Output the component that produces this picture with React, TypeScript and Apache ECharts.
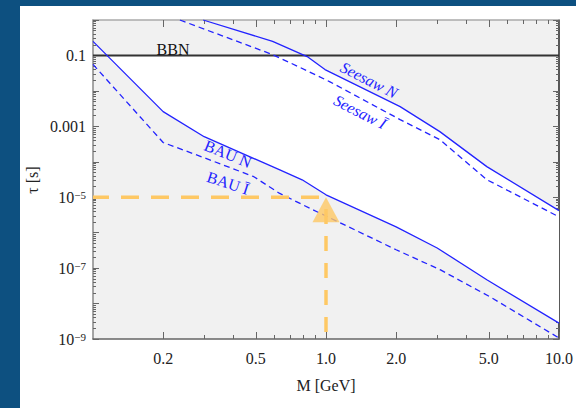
import React, { useEffect, useRef } from "react";
import * as echarts from "echarts";

// ---------- data ----------
const xTickValues = [0.2, 0.5, 1, 2, 5, 10];
const xMinorValues = [0.3, 0.4, 0.6, 0.7, 0.8, 0.9, 3, 4, 6, 7, 8, 9];
const yLabelExponents = [-9, -7, -5, -3, -1];
const yMajorExponents = [-9, -8, -7, -6, -5, -4, -3, -2, -1, 0];

const bauN_M = [0.1, 0.2, 0.3, 0.63, 0.79, 1.0, 2.0, 3.0, 4.9, 10];
const bauN_tau = [0.25, 2.6e-3, 5.1e-4, 6e-5, 3.1e-5, 1.17e-5, 1.46e-6, 3.7e-7, 4.7e-8, 2.8e-9];

const bauI_M = [0.1, 0.2, 0.3, 0.49, 0.63, 0.88, 1.15, 2.0, 3.1, 5.1, 10];
const bauI_tau = [0.056, 3.5e-4, 1.3e-4, 3.8e-5, 1.3e-5, 4.4e-6, 1.9e-6, 3.3e-7, 8.9e-8, 1.5e-8, 1.07e-9];

const seesawN_M = [0.297, 0.59, 0.83, 0.99, 2.08, 3.08, 4.9, 10];
const seesawN_tau = [1.0, 0.25, 0.093, 0.04, 3.6e-3, 7.1e-4, 7.3e-5, 4.2e-6];

const seesawI_M = [0.236, 0.587, 0.773, 1.04, 2.08, 3.08, 4.91, 10];
const seesawI_tau = [1.0, 0.107, 0.046, 0.018, 1.55e-3, 4.2e-4, 3.1e-5, 2.8e-6];

const bbnTau = 0.1;
const benchmarkM = 1.0;
const benchmarkTau = 1e-5;
const xMin = 0.1;
const xMax = 10;
const yMin = 1e-9;
const yMax = 1;

// ---------- helpers ----------
const lg = Math.log10;
const toPts = (ms: number[], ts: number[]) => ms.map((m, i) => [lg(m), lg(ts[i])]);

function crossX(pts: number[][], yv: number): number {
  for (let i = 0; i < pts.length - 1; i++) {
    const a = pts[i], b = pts[i + 1];
    if ((a[1] - yv) * (b[1] - yv) <= 0 && a[1] !== b[1]) {
      return a[0] + ((yv - a[1]) * (b[0] - a[0])) / (b[1] - a[1]);
    }
  }
  return pts[0][0];
}

const bauNPts = toPts(bauN_M, bauN_tau);
const bauIPts = toPts(bauI_M, bauI_tau);
const ssNPts = toPts(seesawN_M, seesawN_tau);
const ssIPts = toPts(seesawI_M, seesawI_tau);
const bbnL = lg(bbnTau);
const xa = crossX(bauNPts, bbnL);
const xb = crossX(ssNPts, bbnL);
const whiteRegion = [
  [xa, bbnL],
  [xb, bbnL],
  ...ssNPts.filter((p) => p[0] > xb),
  ...bauNPts.filter((p) => p[0] > xa).reverse(),
];

const yMinorValues: number[] = [];
for (let e = -9; e < 0; e++) for (let k = 2; k <= 9; k++) yMinorValues.push(lg(k * Math.pow(10, e)));

const FONT = "Liberation Serif, DejaVu Serif, serif";
const BLUE = "#2323ff";
const YELLOW = "#fec864";

export default function App() {
  const ref = useRef<HTMLDivElement>(null);
  useEffect(() => {
    if (!ref.current) return;
    const chart = echarts.init(ref.current, null, { renderer: "svg" });
    const lx0 = lg(xMin), lx1 = lg(xMax), ly0 = lg(yMin), ly1 = lg(yMax);

    const xBase = (pos: string, ticks: number[], len: number, extra: any = {}) => ({
      type: "value",
      position: pos,
      min: lx0,
      max: lx1,
      gridIndex: 0,
      splitLine: { show: false },
      axisLine: { show: false, onZero: false },
      axisTick: { show: true, inside: true, length: len, customValues: ticks.map(lg), lineStyle: { color: "#666", width: 1 } },
      axisLabel: { show: false },
      ...extra,
    });
    const yBase = (pos: string, ticks: number[], len: number, extra: any = {}) => ({
      type: "value",
      position: pos,
      min: ly0,
      max: ly1,
      gridIndex: 0,
      splitLine: { show: false },
      axisLine: { show: false, onZero: false },
      axisTick: { show: true, inside: true, length: len, customValues: ticks, lineStyle: { color: "#666", width: 1 } },
      axisLabel: { show: false },
      ...extra,
    });

    const txt = (text: string, x: number, y: number, deg: number, fill: string, italic = false) => ({
      type: "text",
      x,
      y,
      z: 100,
      rotation: (deg * Math.PI) / 180,
      style: {
        text,
        fontFamily: FONT,
        fontSize: 16,
        fontStyle: italic ? "italic" : "normal",
        fill,
        align: "center",
        verticalAlign: "middle",
      },
    });

    const option: any = {
      animation: false,
      backgroundColor: "transparent",
      grid: { left: 93, top: 20, width: 466, height: 319, show: true, backgroundColor: "#f1f1f1", borderWidth: 0 },
      xAxis: [
        xBase("bottom", xTickValues, 7, {
          axisLine: { show: true, onZero: false, lineStyle: { color: "#666", width: 1.5 } },
          axisLabel: {
            show: true,
            customValues: xTickValues.map(lg),
            formatter: (v: number) => Math.pow(10, v).toFixed(1),
            fontFamily: FONT,
            fontSize: 16,
            color: "#222",
            margin: 11,
          },
        }),
        xBase("bottom", xMinorValues, 4),
        xBase("top", xTickValues, 7, {
          axisLine: { show: true, onZero: false, lineStyle: { color: "#aaa", width: 1.5 } },
        }),
        xBase("top", xMinorValues, 4),
      ],
      yAxis: [
        yBase("left", yMajorExponents, 6, {
          axisLine: { show: true, onZero: false, lineStyle: { color: "#888", width: 1.5 } },
          axisLabel: {
            show: true,
            customValues: yLabelExponents,
            margin: 7,
            fontFamily: FONT,
            fontSize: 16,
            color: "#222",
            formatter: (v: number) => {
              const e = Math.round(v);
              if (e === -1) return "0.1";
              if (e === -3) return "0.001";
              return `{b|10}{s|−${-e}}`;
            },
            rich: {
              b: { fontFamily: FONT, fontSize: 16, color: "#222", verticalAlign: "bottom" },
              s: { fontFamily: FONT, fontSize: 11, color: "#222", verticalAlign: "top" },
            },
          },
        }),
        yBase("left", yMinorValues, 3),
        yBase("right", yMajorExponents, 6, {
          axisLine: { show: true, onZero: false, lineStyle: { color: "#222", width: 1.5 } },
        }),
        yBase("right", yMinorValues, 3),
      ],
      series: [
        {
          type: "custom",
          coordinateSystem: "cartesian2d",
          xAxisIndex: 0,
          yAxisIndex: 0,
          silent: true,
          z: 1,
          data: [[0, bbnL]],
          renderItem: (_p: any, api: any) => ({
            type: "polygon",
            shape: { points: whiteRegion.map((p) => api.coord(p)) },
            style: { fill: "#ffffff" },
          }),
        },
        {
          type: "line",
          name: "BBN",
          data: [[lx0, bbnL], [lx1, bbnL]],
          symbol: "none",
          lineStyle: { color: "#333", width: 2 },
          z: 3,
        },
        {
          type: "line",
          name: "BAU N",
          data: bauNPts,
          symbol: "none",
          lineStyle: { color: BLUE, width: 1.3 },
          z: 4,
        },
        {
          type: "line",
          name: "BAU I",
          data: bauIPts,
          symbol: "none",
          lineStyle: { color: BLUE, width: 1.3, type: [6, 4] },
          z: 4,
        },
        {
          type: "line",
          name: "Seesaw N",
          data: ssNPts,
          symbol: "none",
          lineStyle: { color: BLUE, width: 1.3 },
          z: 4,
        },
        {
          type: "line",
          name: "Seesaw I",
          data: ssIPts,
          symbol: "none",
          lineStyle: { color: BLUE, width: 1.3, type: [6, 4] },
          z: 4,
        },
        {
          type: "line",
          name: "bench h",
          data: [[lx0, lg(benchmarkTau)], [lg(benchmarkM), lg(benchmarkTau)]],
          symbol: "none",
          lineStyle: { color: YELLOW, width: 3.5, type: [18, 12], dashOffset: 2 },
          z: 5,
        },
        {
          type: "line",
          name: "bench v",
          data: [[lg(benchmarkM), ly0], [lg(benchmarkM), lg(benchmarkTau)]],
          symbol: "none",
          lineStyle: { color: YELLOW, width: 3.5, type: [15, 12], dashOffset: 20 },
          z: 5,
        },
        {
          type: "scatter",
          name: "benchmark",
          data: [[lg(benchmarkM), lg(benchmarkTau)]],
          symbol: "triangle",
          symbolSize: [27, 25],
          symbolOffset: [0, "50%"],
          itemStyle: { color: YELLOW },
          z: 6,
        },
      ],
      graphic: [
        txt("BBN", 173, 49, 0, "#111"),
        txt("Seesaw N", 369, 80, -27, BLUE, true),
        txt("Seesaw Ī", 360, 112, -27, BLUE, true),
        txt("BAU N", 228, 154, -22, BLUE),
        txt("BAU Ī", 228, 183, -18, BLUE),
        txt("M [GeV]", 326, 385, 0, "#222"),
        txt("τ [s]", 32, 180, 90, "#222"),
      ],
    };
    chart.setOption(option);
    return () => chart.dispose();
  }, []);

  return (
    <div style={{ position: "fixed", left: 0, top: 0, width: 576, height: 408, background: "#0d5080", overflow: "hidden" }}>
      <div style={{ position: "absolute", left: 20, top: 6, right: 0, bottom: 0, background: "#ffffff" }} />
      <div ref={ref} style={{ position: "absolute", left: 0, top: 0, width: 576, height: 408 }} />
    </div>
  );
}
